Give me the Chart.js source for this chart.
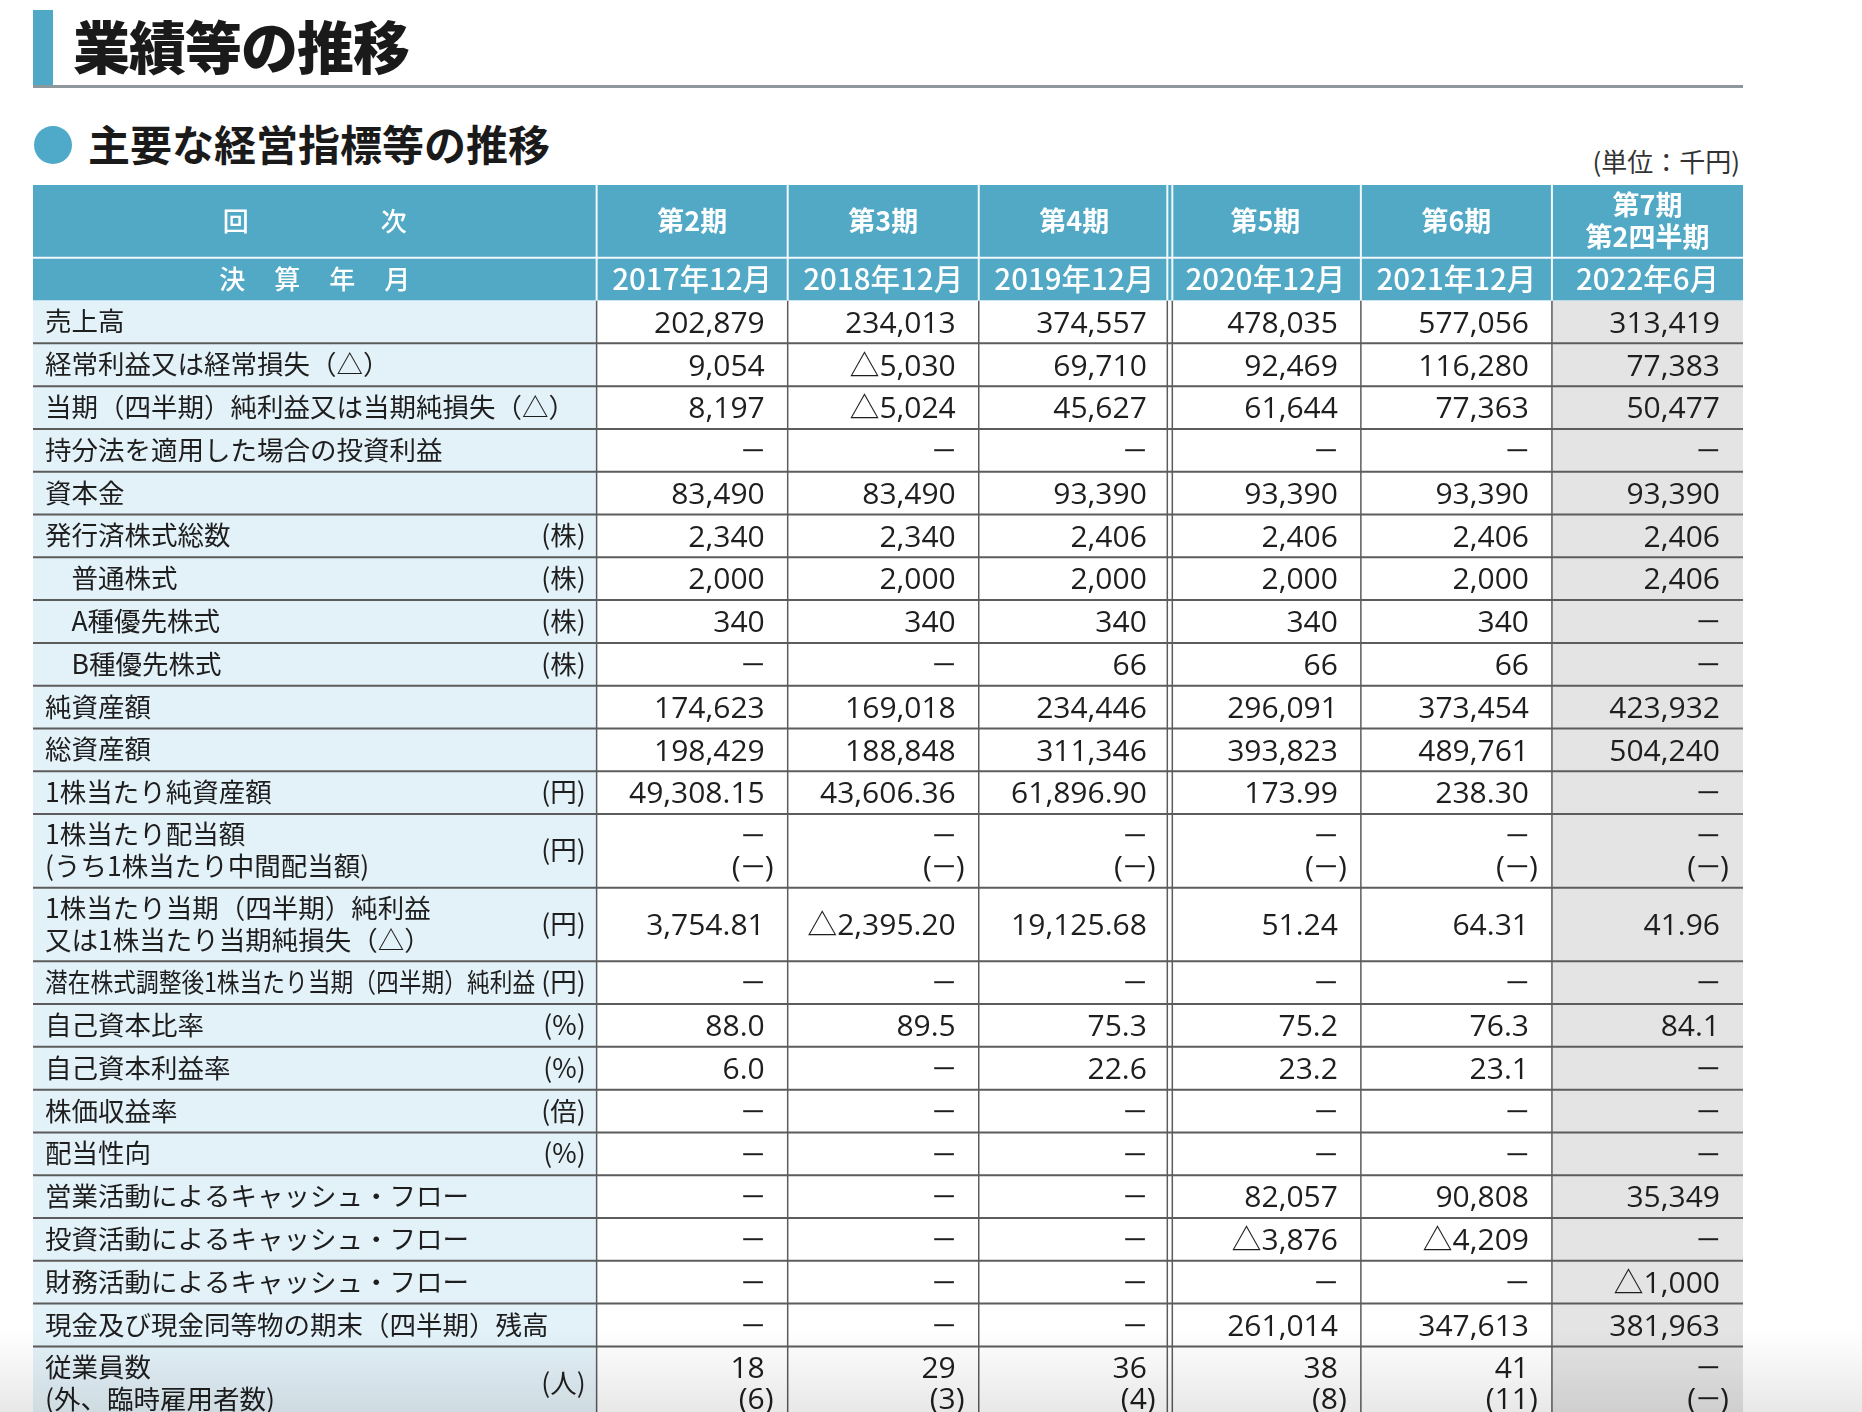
<!DOCTYPE html>
<html lang="ja">
<head>
<meta charset="UTF-8">
<title>業績等の推移</title>
<script src="https://cdn.jsdelivr.net/npm/chart.js@4.4.0/dist/chart.umd.min.js"></script>
<style>
    body {
        margin: 0;
        width: 1862px;
        height: 1412px;
        overflow: hidden;
        position: relative;
        background: #fff;
        font-family: "Noto Sans CJK JP", sans-serif;
        color: #1a1a1a;
    }
    .title-bar { position: absolute; left: 33px; top: 10px; width: 20px; height: 76px; background: #4fa9c6; }
    .title-rule { position: absolute; left: 33px; top: 85px; width: 1710px; height: 3px; background: #8d979c; }
    .title { position: absolute; left: 73px; top: 16px; font-size: 57px; font-weight: 900; line-height: 1; letter-spacing: -1px; }
    .dot { position: absolute; left: 34px; top: 126px; width: 38px; height: 38px; border-radius: 50%; background: #4eaac8; }
    .heading { position: absolute; left: 88px; top: 122px; font-size: 42px; font-weight: 700; line-height: 1; }
    .unit { position: absolute; right: 122px; top: 148px; font-size: 26px; line-height: 1; color: #333; }
    /* table area: 28.86 row units * 42.8px */
    #tableBox { position: absolute; left: 33px; top: 185px; width: 1710px; height: 1235px; }
    .fade { position: absolute; left: 0; top: 1330px; width: 1862px; height: 82px; pointer-events: none;
            background: linear-gradient(to bottom, rgba(0,0,0,0), rgba(0,0,0,0.09)); }
</style>
</head>
<body>
    <div class="title-bar"></div>
    <div class="title-rule"></div>
    <div class="title">業績等の推移</div>
    <div class="dot"></div>
    <div class="heading">主要な経営指標等の推移</div>
    <div class="unit">(単位：千円)</div>
    <div id="tableBox"><canvas id="table"></canvas></div>
    <div class="fade"></div>

<script>
    const periods = ['第2期', '第3期', '第4期', '第5期', '第6期', '第7期\n第2四半期'];
    const closingMonths = ['2017年12月', '2018年12月', '2019年12月', '2020年12月', '2021年12月', '2022年6月'];

    const rowLabels = [
        '売上高',
        '経常利益又は経常損失（△）',
        '当期（四半期）純利益又は当期純損失（△）',
        '持分法を適用した場合の投資利益',
        '資本金',
        '発行済株式総数',
        '　普通株式',
        '　A種優先株式',
        '　B種優先株式',
        '純資産額',
        '総資産額',
        '1株当たり純資産額',
        '1株当たり配当額\n(うち1株当たり中間配当額)',
        '1株当たり当期（四半期）純利益\n又は1株当たり当期純損失（△）',
        '潜在株式調整後1株当たり当期（四半期）純利益',
        '自己資本比率',
        '自己資本利益率',
        '株価収益率',
        '配当性向',
        '営業活動によるキャッシュ・フロー',
        '投資活動によるキャッシュ・フロー',
        '財務活動によるキャッシュ・フロー',
        '現金及び現金同等物の期末（四半期）残高',
        '従業員数\n(外、臨時雇用者数)'
    ];
    const rowUnits = ['', '', '', '', '', '(株)', '(株)', '(株)', '(株)', '', '', '(円)',
                      '(円)', '(円)', '(円)', '(%)', '(%)', '(倍)', '(%)', '', '', '', '', '(人)'];

    const values2017 = ['202,879', '9,054', '8,197', '−', '83,490', '2,340', '2,000', '340', '−', '174,623', '198,429',
        '49,308.15', '−\n(−)', '3,754.81', '−', '88.0', '6.0', '−', '−', '−', '−', '−', '−', '18\n(6)'];
    const values2018 = ['234,013', '△5,030', '△5,024', '−', '83,490', '2,340', '2,000', '340', '−', '169,018', '188,848',
        '43,606.36', '−\n(−)', '△2,395.20', '−', '89.5', '−', '−', '−', '−', '−', '−', '−', '29\n(3)'];
    const values2019 = ['374,557', '69,710', '45,627', '−', '93,390', '2,406', '2,000', '340', '66', '234,446', '311,346',
        '61,896.90', '−\n(−)', '19,125.68', '−', '75.3', '22.6', '−', '−', '−', '−', '−', '−', '36\n(4)'];
    const values2020 = ['478,035', '92,469', '61,644', '−', '93,390', '2,406', '2,000', '340', '66', '296,091', '393,823',
        '173.99', '−\n(−)', '51.24', '−', '75.2', '23.2', '−', '−', '82,057', '△3,876', '−', '261,014', '38\n(8)'];
    const values2021 = ['577,056', '116,280', '77,363', '−', '93,390', '2,406', '2,000', '340', '66', '373,454', '489,761',
        '238.30', '−\n(−)', '64.31', '−', '76.3', '23.1', '−', '−', '90,808', '△4,209', '−', '347,613', '41\n(11)'];
    const values2022 = ['313,419', '77,383', '50,477', '−', '93,390', '2,406', '2,406', '−', '−', '423,932', '504,240',
        '−', '−\n(−)', '41.96', '−', '84.1', '−', '−', '−', '35,349', '−', '△1,000', '381,963', '−\n(−)'];

    const columns = [values2017, values2018, values2019, values2020, values2021, values2022];

    // layout in axis units: one value column = 1 x unit, one single row = 1 y unit
    const LABEL_W = 2.95;
    const HEAD1_H = 1.7, HEAD2_H = 1, DOUBLE_H = 1.72;

    const rowHeights = rowLabels.map(l => l.includes('\n') ? DOUBLE_H : 1);
    const rowTops = [];
    let acc = HEAD1_H + HEAD2_H;
    rowHeights.forEach(h => { rowTops.push(acc); acc += h; });
    const totalH = acc;

    const colLeft = i => LABEL_W + i;   // i-th value column

    const HEAD_BG = '#52a9c6', LABEL_BG = '#e3f1f8', LAST_BG = '#e4e4e4', LINE = '#5c5c5c';
    const JP = '"Noto Sans CJK JP", sans-serif';
    const NUM = '"Open Sans", "Noto Sans CJK JP", sans-serif';
    const DASH_STRETCH = 1.4;   // the print uses a wider dash than Open Sans' minus

    // right-aligned run, drawn glyph by glyph so the dash can be widened
    function fillRight(ctx, s, xr, by) {
        ctx.textAlign = 'left';
        const parts = [...s].map(c => [c, ctx.measureText(c).width * (c === '−' ? DASH_STRETCH : 1)]);
        let px = xr - parts.reduce((a, p) => a + p[1], 0);
        parts.forEach(([c, w]) => {
            if (c === '−') {
                ctx.save(); ctx.translate(px, by); ctx.scale(DASH_STRETCH, 1); ctx.fillText(c, 0, 0); ctx.restore();
            } else {
                ctx.fillText(c, px, by);
            }
            px += w;
        });
    }

    // multi-line value; a "(...)" line lets its closing paren hang past the right edge
    function valueLines(ctx, text, xr, yMid, size, gap) {
        const lines = text.split('\n');
        lines.forEach((ln, k) => {
            const cy = yMid + (k - (lines.length - 1) / 2) * gap;
            let px = xr;
            if (ln.startsWith('(') && ln.endsWith(')')) px += ctx.measureText(')').width;
            fillRight(ctx, ln, px, cy + size * 0.36);
        });
    }

    function centerLines(ctx, text, cx, yMid, size, gap) {
        const lines = text.split('\n');
        ctx.textAlign = 'center';
        lines.forEach((ln, k) => {
            ctx.fillText(ln, cx, yMid + (k - (lines.length - 1) / 2) * gap + size * 0.36);
        });
    }

    function spread(ctx, text, cx, yMid, size, pitch) {
        ctx.textAlign = 'center';
        const chars = [...text];
        chars.forEach((c, k) => {
            ctx.fillText(c, cx + (k - (chars.length - 1) / 2) * pitch, yMid + size * 0.36);
        });
    }

    const tablePainter = {
        id: 'tablePainter',
        beforeDatasetsDraw(chart) {
            const { ctx, scales: { x, y } } = chart;
            const X = v => x.getPixelForValue(v);
            const Y = v => y.getPixelForValue(v);
            const left = X(0), right = X(LABEL_W + periods.length);
            const headTop = Y(0), headMid = Y(HEAD1_H), headBot = Y(HEAD1_H + HEAD2_H), bottom = Y(totalH);
            const splitCol = 3; // double rule before 第5期

            ctx.save();

            // backgrounds
            ctx.fillStyle = HEAD_BG;
            ctx.fillRect(left, headTop, right - left, headBot - headTop);
            ctx.fillStyle = LABEL_BG;
            ctx.fillRect(left, headBot, X(LABEL_W) - left, bottom - headBot);
            ctx.fillStyle = '#fff';
            ctx.fillRect(X(LABEL_W), headBot, X(colLeft(5)) - X(LABEL_W), bottom - headBot);
            ctx.fillStyle = LAST_BG;
            ctx.fillRect(X(colLeft(5)), headBot, right - X(colLeft(5)), bottom - headBot);

            // rules between data rows
            ctx.strokeStyle = LINE;
            ctx.lineWidth = 2;
            rowTops.forEach((t, i) => {
                const yy = Y(t + rowHeights[i]);
                ctx.beginPath(); ctx.moveTo(left, yy); ctx.lineTo(right, yy); ctx.stroke();
            });
            ctx.lineWidth = 1.5;
            for (let i = 0; i < periods.length; i++) {
                const xx = X(colLeft(i));
                const offs = i === splitCol ? [-2.5, 2.5] : [0];
                offs.forEach(o => {
                    ctx.beginPath(); ctx.moveTo(xx + o, headBot); ctx.lineTo(xx + o, bottom); ctx.stroke();
                });
            }

            // header rules
            ctx.strokeStyle = '#f2f8fb';
            ctx.lineWidth = 2;
            ctx.beginPath(); ctx.moveTo(left, headMid); ctx.lineTo(right, headMid); ctx.stroke();
            for (let i = 0; i < periods.length; i++) {
                const xx = X(colLeft(i));
                const offs = i === splitCol ? [-2.5, 2.5] : [0];
                offs.forEach(o => {
                    ctx.beginPath(); ctx.moveTo(xx + o, headTop); ctx.lineTo(xx + o, headBot); ctx.stroke();
                });
            }

            // header text
            ctx.fillStyle = '#fff';
            const labelMid = (left + X(LABEL_W)) / 2;
            ctx.font = '500 26px ' + JP;
            spread(ctx, '回次', labelMid, (headTop + headMid) / 2, 26, 158);
            spread(ctx, '決算年月', labelMid, (headMid + headBot) / 2, 26, 55);
            periods.forEach((p, i) => {
                const cx = (X(colLeft(i)) + X(colLeft(i) + 1)) / 2;
                ctx.font = '700 27px ' + JP;
                centerLines(ctx, p, cx, (headTop + headMid) / 2, 27, 32);
                ctx.font = '500 29.5px ' + JP;
                centerLines(ctx, closingMonths[i], cx, (headMid + headBot) / 2, 29.5, 32);
            });

            // row labels and units
            ctx.fillStyle = '#1e1e1e';
            const LS = 26.5;
            rowLabels.forEach((lab, r) => {
                const mid = (Y(rowTops[r]) + Y(rowTops[r] + rowHeights[r])) / 2;
                ctx.font = '400 ' + LS + 'px ' + JP;
                const unitRight = X(LABEL_W) - 11;
                let maxW = unitRight - (left + 12);
                if (rowUnits[r]) {
                    ctx.textAlign = 'right';
                    ctx.fillText(rowUnits[r], unitRight, mid + LS * 0.36);
                    maxW -= ctx.measureText(rowUnits[r]).width + 6;
                }
                ctx.textAlign = 'left';
                const lines = lab.split('\n');
                lines.forEach((ln, k) => {
                    const cy = mid + (k - (lines.length - 1) / 2) * 32;
                    ctx.fillText(ln, left + 12, cy + LS * 0.36, maxW);
                });
            });

            // values
            ctx.font = '400 30px ' + NUM;
            columns.forEach((col, i) => {
                const xr = X(colLeft(i) + 1) - 23;
                col.forEach((v, r) => {
                    const mid = (Y(rowTops[r]) + Y(rowTops[r] + rowHeights[r])) / 2;
                    valueLines(ctx, v, xr, mid, 30, 31);
                });
            });

            ctx.restore();
        }
    };

    new Chart(document.getElementById('table'), {
        type: 'scatter',
        data: { datasets: [{ data: [] }] },
        options: {
            responsive: true,
            maintainAspectRatio: false,
            animation: false,
            events: [],
            layout: { padding: 0 },
            plugins: { legend: { display: false }, tooltip: { enabled: false } },
            scales: {
                x: { type: 'linear', min: 0, max: LABEL_W + periods.length, display: false },
                y: { type: 'linear', min: 0, max: totalH, reverse: true, display: false }
            }
        },
        plugins: [tablePainter]
    });
</script>
</body>
</html>
